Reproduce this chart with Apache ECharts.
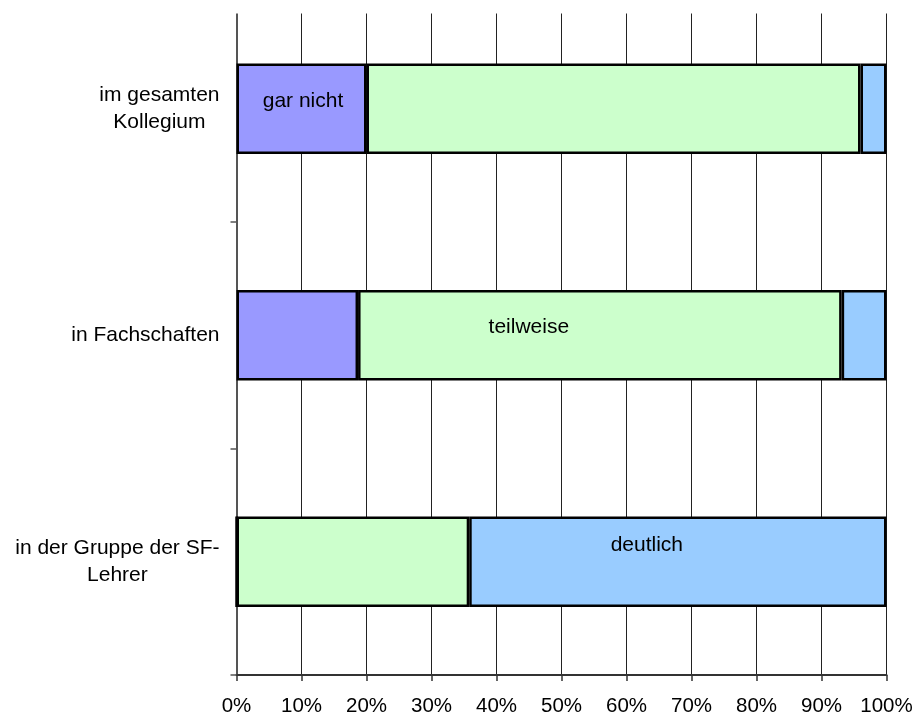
<!DOCTYPE html>
<html>
<head>
<meta charset="utf-8">
<script src="https://cdn.jsdelivr.net/npm/echarts@6/dist/echarts.min.js"></script>
<style>
  html, body { margin: 0; padding: 0; background: #fff; }
  #chart { width: 914px; height: 715px; }
</style>
</head>
<body>
<div id="chart"></div>
<script>
// Kategorien von oben nach unten
const categories = ['im gesamten\nKollegium', 'in Fachschaften', 'in der Gruppe der SF-\nLehrer'];
// Anteile in Prozent
const garNicht = [20, 18.7, 0];
const teilweise = [76, 74.4, 35.8];
const deutlich = [4, 6.9, 64.2];

const font = "'Liberation Sans', Arial, sans-serif";
const chart = echarts.init(document.getElementById('chart'), null, { renderer: 'canvas' });

// nur ein Balken pro Reihe bekommt die Beschriftung (wie im Original)
const withLabel = (values, idx, offset) => values.map((v, i) => (
  i === idx ? { value: v, label: { show: true, offset } } : v
));

const barBase = {
  type: 'bar',
  stack: 'total',
  barWidth: '40%',
  itemStyle: { borderColor: '#000', borderWidth: 2.5 },
  label: {
    show: false,
    position: 'inside',
    formatter: '{a}',
    color: '#000',
    fontSize: 21,
    fontFamily: font,
  },
  emphasis: { disabled: true },
};

chart.setOption({
  backgroundColor: '#fff',
  animation: false,
  grid: { left: 236.5, top: -4.5, width: 650, height: 679.5, outerBoundsMode: 'none', containLabel: false },
  xAxis: {
    type: 'value',
    min: 0,
    max: 100,
    interval: 10,
    axisLine: { show: true, lineStyle: { color: '#333', width: 2 } },
    axisTick: { show: true, length: 6, lineStyle: { color: '#333', width: 1.5 } },
    axisLabel: {
      formatter: '{value}%',
      color: '#000',
      fontSize: 20.5,
      fontFamily: font,
      margin: 21,
    },
    splitLine: { show: true, lineStyle: { color: '#222', width: 1 } },
  },
  yAxis: {
    type: 'category',
    inverse: true,
    data: categories,
    axisLine: { show: true, lineStyle: { color: '#555', width: 2 } },
    axisTick: { show: true, length: 6, lineStyle: { color: '#555', width: 1.5 } },
    axisLabel: {
      margin: 17,
      formatter: (v) => v.split('\n').map(s => '{c|' + s + '}').join('\n'),
      rich: {
        c: { align: 'center', fontSize: 21, lineHeight: 27.5, fontFamily: font, color: '#000' },
      },
    },
  },
  series: [
    { ...barBase, name: 'gar nicht', data: withLabel(garNicht, 0, [1.5, -8]), itemStyle: { ...barBase.itemStyle, color: '#9999FF' } },
    { ...barBase, name: 'teilweise', data: withLabel(teilweise, 1, [-71, -8]), itemStyle: { ...barBase.itemStyle, color: '#CCFFCC' } },
    { ...barBase, name: 'deutlich', data: withLabel(deutlich, 2, [-31, -17]), itemStyle: { ...barBase.itemStyle, color: '#99CCFF' } },
  ],
  // oberer Rand bleibt frei
  graphic: [{
    type: 'rect',
    left: 0,
    top: 0,
    z: 100,
    shape: { width: 914, height: 13.5 },
    style: { fill: '#fff' },
  }],
});
</script>
</body>
</html>
